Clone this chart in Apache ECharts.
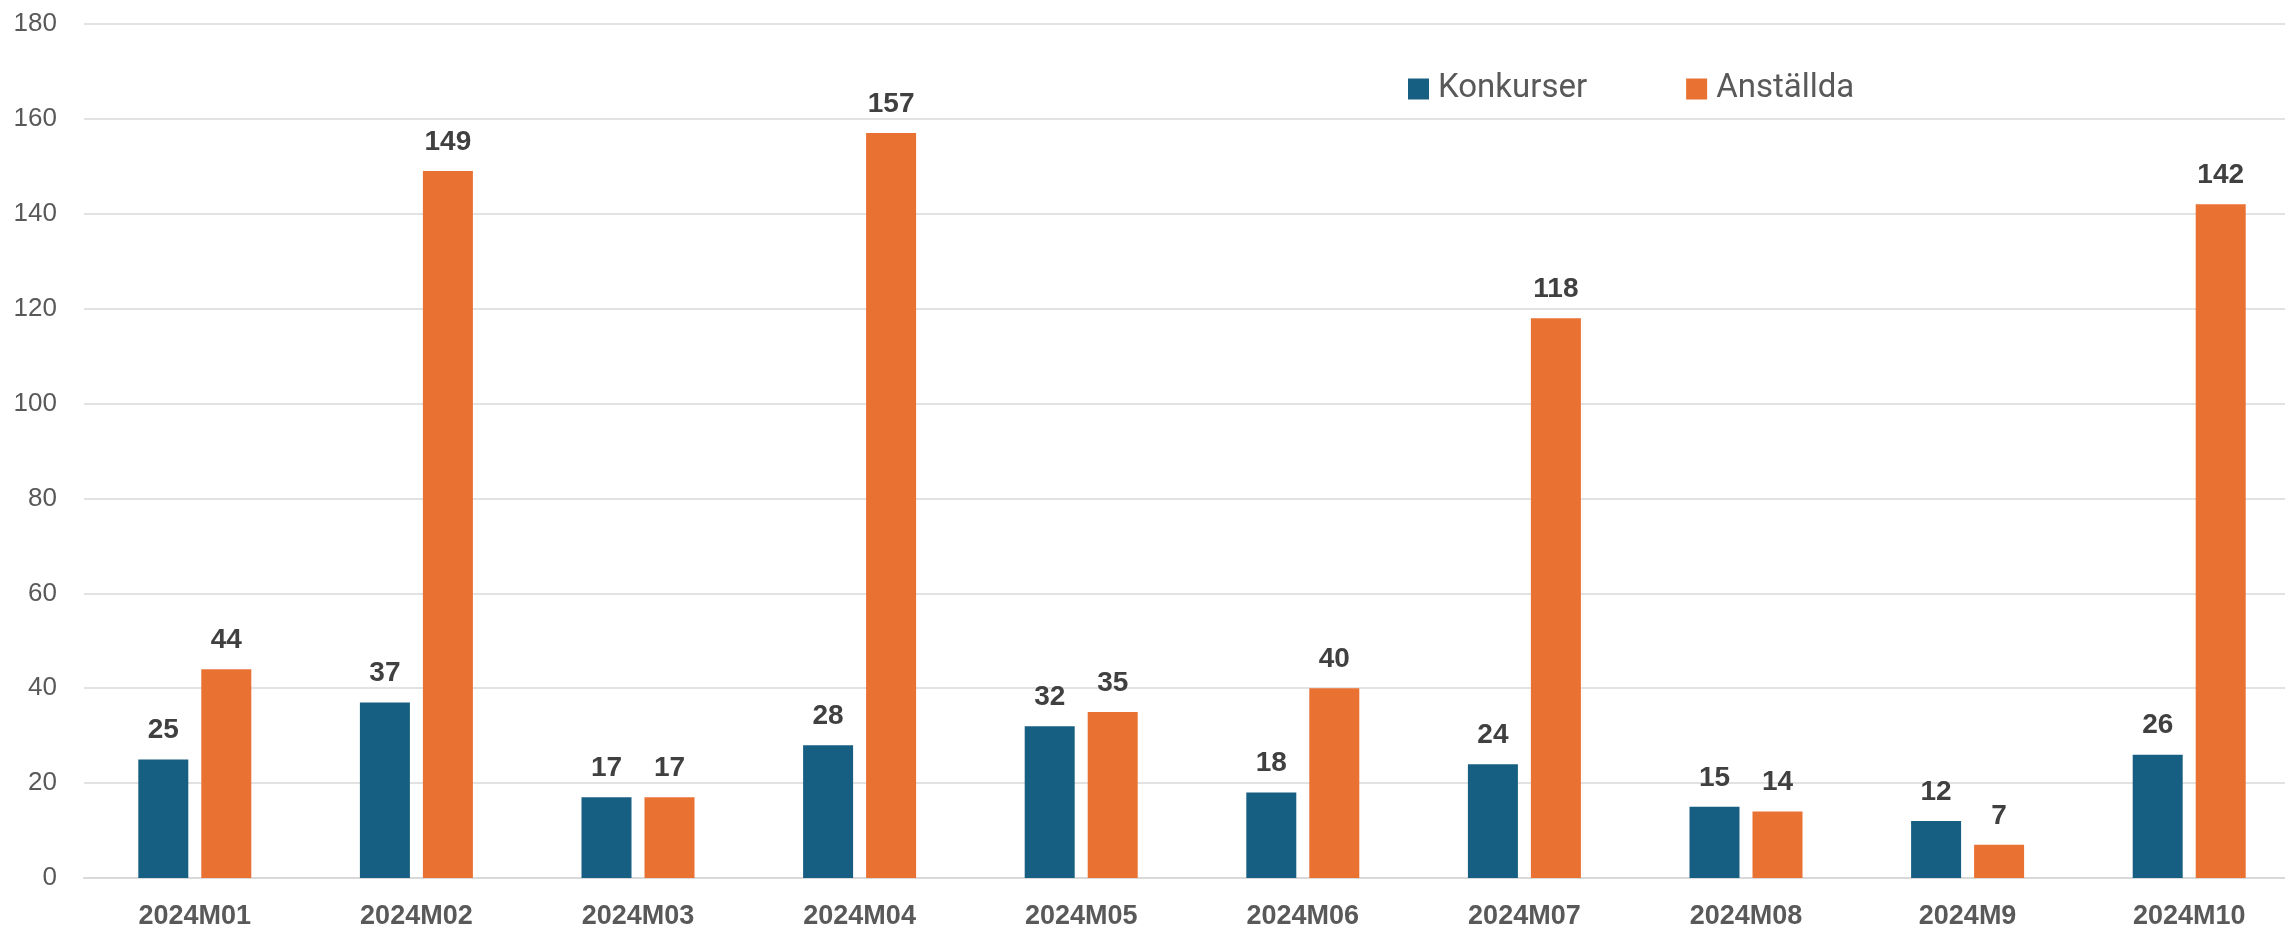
<!DOCTYPE html>
<html>
<head>
<meta charset="utf-8">
<script src="https://cdn.jsdelivr.net/npm/echarts@6/dist/echarts.min.js"></script>
<style>
html,body{margin:0;padding:0;background:#fff;}
#chart{width:2285px;height:932px;}
</style>
</head>
<body>
<div id="chart"></div>
<script>
const categories = ['2024M01','2024M02','2024M03','2024M04','2024M05','2024M06','2024M07','2024M08','2024M9','2024M10'];
const konkurser = [25, 37, 17, 28, 32, 18, 24, 15, 12, 26];
const anstallda = [44, 149, 17, 157, 35, 40, 118, 14, 7, 142];
const seriesNames = ['Konkurser', 'Anställda'];
const yTicks = {min: 0, max: 180, interval: 20};

const chart = echarts.init(document.getElementById('chart'));
const labelStyle = {
  show: true, position: 'top', distance: 15,
  fontFamily: 'Liberation Sans', fontWeight: 'bold', fontSize: 28, color: '#404040'
};
chart.setOption({
  animation: false,
  backgroundColor: '#ffffff',
  grid: {left: 84, right: -15, top: 24, bottom: 54, containLabel: false, outerBoundsMode: 'none'},
  legend: {
    data: seriesNames,
    left: 1403, top: 67,
    itemWidth: 21, itemHeight: 21, itemGap: 99,
    icon: 'rect',
    textStyle: {fontFamily: 'Roboto', fontSize: 33, lineHeight: 34, color: '#595959', padding: [0,0,0,4]}
  },
  xAxis: {
    type: 'category',
    data: categories,
    axisLine: {lineStyle: {color: '#d9d9d9', width: 2}},
    axisTick: {show: false},
    axisLabel: {margin: 25, fontFamily: 'Liberation Sans', fontWeight: 'bold', fontSize: 27, color: '#595959'}
  },
  yAxis: {
    type: 'value',
    min: yTicks.min, max: yTicks.max, interval: yTicks.interval,
    axisLine: {show: false},
    axisTick: {show: false},
    splitLine: {lineStyle: {color: '#d9d9d9', width: 1.5}},
    axisLabel: {margin: 27, fontFamily: 'Liberation Sans', fontSize: 26, color: '#595959'}
  },
  series: [
    {name: seriesNames[0], type: 'bar', data: konkurser, barWidth: 50, barGap: '26%',
     itemStyle: {color: '#175F82'}, label: labelStyle},
    {name: seriesNames[1], type: 'bar', data: anstallda, barWidth: 50, barGap: '26%',
     itemStyle: {color: '#E97132'}, label: labelStyle}
  ]
});
</script>
</body>
</html>
